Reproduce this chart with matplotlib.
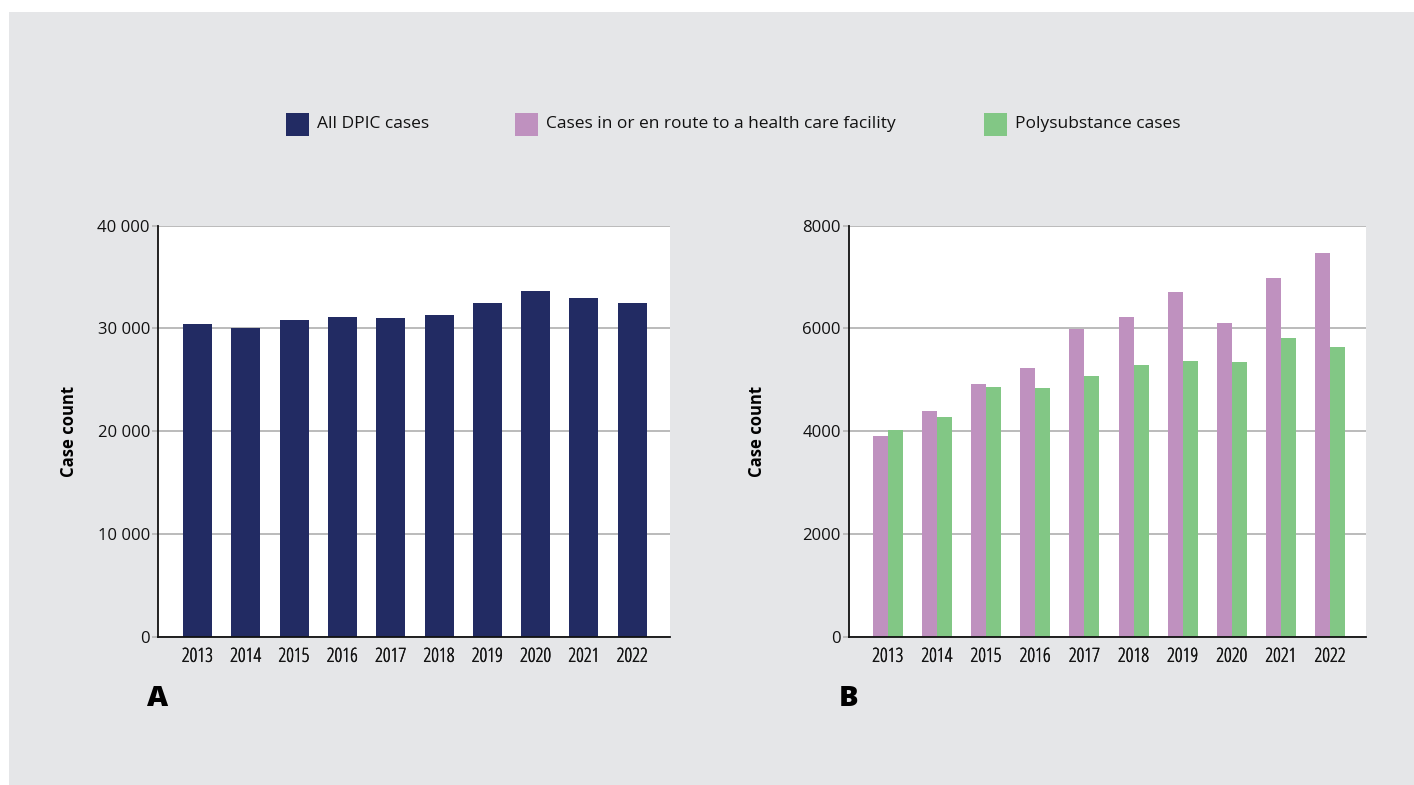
import matplotlib
matplotlib.use("Agg")
import matplotlib.pyplot as plt
import matplotlib.patheffects as pe
from matplotlib.patches import Rectangle
import numpy as np

years = ["2013", "2014", "2015", "2016", "2017", "2018", "2019", "2020", "2021", "2022"]
all_dpic = [30400, 30000, 30850, 31150, 31050, 31350, 32500, 33650, 33000, 32500]
health_facility = [3910, 4400, 4920, 5230, 5980, 6225, 6710, 6110, 6985, 7470]
polysubstance = [4030, 4280, 4865, 4845, 5080, 5295, 5370, 5350, 5820, 5645]

legend_labels = ["All DPIC cases", "Cases in or en route to a health care facility", "Polysubstance cases"]
a_ticks = [0, 10000, 20000, 30000, 40000]
a_ticklabels = ["0", "10 000", "20 000", "30 000", "40 000"]
b_ticks = [0, 2000, 4000, 6000, 8000]
b_ticklabels = ["0", "2000", "4000", "6000", "8000"]

NAVY = "#222b63"
PINK = "#bf91bf"
GREEN = "#82c785"
BG = "#e5e6e8"
GRID = "#b5b5b5"

W, H = 1414, 785
fig = plt.figure(figsize=(W / 100, H / 100), dpi=100)
fig.patch.set_facecolor("white")
fig.patches.append(Rectangle((9 / W, 0), 1 - 9 / W, (H - 12) / H, transform=fig.transFigure,
                             facecolor=BG, edgecolor="none", zorder=-10))

FONT = ["Open Sans", "DejaVu Sans"]
THICK = [pe.withStroke(linewidth=0.3, foreground="#111111")]

def style_axes(ax, ticks, ticklabels, ymax):
    ax.set_facecolor("white")
    ax.set_ylim(0, ymax)
    ax.set_yticks(ticks)
    ax.set_yticklabels(ticklabels, fontsize=12, family=FONT, color="#111111")
    ax.set_xticks(np.arange(len(years)))
    labels = ax.set_xticklabels(years, fontsize=14, family=FONT, fontstretch="condensed",
                                color="#111111")
    for t in labels:
        t.set_path_effects(THICK)
    ax.tick_params(axis="x", length=0, pad=8)
    ax.tick_params(axis="y", length=4, width=1.2, color=GRID, pad=2)
    ax.grid(axis="y", color=GRID, linewidth=1.3, zorder=0)
    ax.set_axisbelow(True)
    for s in ["top", "right"]:
        ax.spines[s].set_visible(False)
    for s in ["left", "bottom"]:
        ax.spines[s].set_color("#111111")
        ax.spines[s].set_linewidth(1.3)
    ax.set_ylabel("Case count", fontsize=12, family=FONT, fontweight="bold")

x = np.arange(len(years))

axA = fig.add_axes([158.3 / W, (H - 636.7) / H, (670 - 158.3) / W, 411 / H])
axA.bar(x, all_dpic, width=0.6, color=NAVY, zorder=2)
axA.set_xlim(-0.81, 9.78)
style_axes(axA, a_ticks, a_ticklabels, 40000)
axA.yaxis.set_label_coords(-0.156, 0.5)

axB = fig.add_axes([849 / W, (H - 636.7) / H, (1366 - 849) / W, 411 / H])
bw = 0.305
axB.bar(x - bw / 2, health_facility, width=bw, color=PINK, zorder=2)
axB.bar(x + bw / 2, polysubstance, width=bw, color=GREEN, zorder=2)
axB.set_xlim(-0.79, 9.73)
style_axes(axB, b_ticks, b_ticklabels, 8000)
axB.yaxis.set_label_coords(-0.16, 0.5)

# Legend
leg_items = [(286, legend_labels[0], NAVY), (515, legend_labels[1], PINK), (984, legend_labels[2], GREEN)]
for px, label, col in leg_items:
    fig.patches.append(Rectangle((px / W, (H - 136) / H), 23 / W, 23 / H, transform=fig.transFigure,
                                 facecolor=col, edgecolor="none"))
    fig.text((px + 31) / W, (H - 124.5) / H, label, fontsize=12.5, family=FONT,
             va="center", ha="left", color="#111111")

# Panel labels
fig.text(158 / W, (H - 698) / H, "A", fontsize=21, family=FONT, fontweight="heavy",
         ha="center", va="center", color="black")
fig.text(849 / W, (H - 698) / H, "B", fontsize=21, family=FONT, fontweight="heavy",
         ha="center", va="center", color="black")

fig.savefig("out.png", dpi=100, facecolor=fig.get_facecolor())
